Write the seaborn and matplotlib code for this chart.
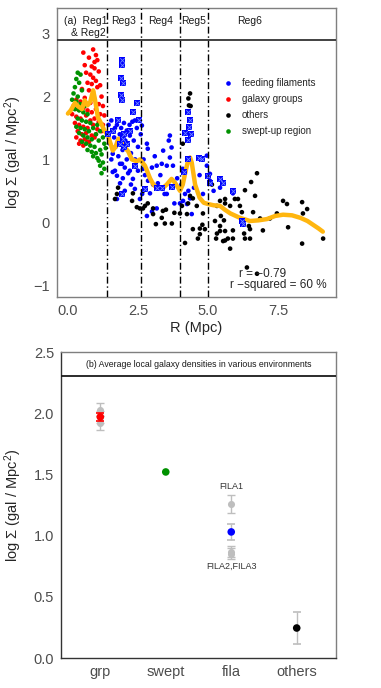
import numpy as np
import pandas as pd
import matplotlib
matplotlib.use('Agg')
import matplotlib.pyplot as plt
import seaborn as sns

# ---------------- panel (a): local density vs distance ----------------
# feeding filaments (plain dots)
fila_R = [1.45, 1.5, 1.55, 1.6, 1.6, 1.65, 1.68, 1.68, 1.7, 1.75, 1.75, 1.79, 1.8, 1.85, 1.86,
          1.86, 1.9, 1.93, 1.95, 1.96, 2.0, 2.03, 2.03, 2.05, 2.1, 2.1, 2.15, 2.2, 2.21, 2.21,
          2.25, 2.3, 2.32, 2.35, 2.39, 2.39, 2.4, 2.46, 2.5, 2.5, 2.57, 2.6, 2.64, 2.7, 2.75,
          2.82, 2.82, 2.85, 2.68, 2.86, 2.93, 3.0, 3.0, 3.04, 3.1, 3.17, 3.17, 3.21, 3.3, 3.35,
          3.4, 3.45, 3.53, 3.53, 3.6, 3.64, 3.64, 3.7, 3.75, 3.8, 3.9, 4.0, 4.05, 4.1, 4.11,
          4.18, 4.25, 4.3, 4.36, 4.42, 4.5, 4.68, 4.7, 4.82, 4.96, 4.96, 5.07, 5.07, 5.2, 5.43,
          5.89, 1.75, 1.6, 1.55, 2.25, 2.65]
fila_logS = [1.55, 1.25, 1.62, 1.09, 1.46, 1.35, 1.5, 0.82, 1.2, 0.74, 1.55, 1.62, 1.05, 1.4, 0.93,
             0.62, 1.5, 0.93, 1.15, 0.7, 1.58, 0.87, 0.5, 1.3, 1.46, 1.0, 0.78, 1.55, 1.38, 0.82,
             1.1, 1.6, 0.69, 1.3, 1.62, 0.53, 1.0, 1.5, 0.82, 1.2, 0.37, 1.4, 1.54, 1.0, 0.75,
             1.25, 0.1, 1.17, 0.85, 0.66, 0.46, 0.87, 0.17, 0.6, 1.05, 0.9, 0.22, 0.62, 0.75, 0.93,
             1.14, 0.45, 0.9, 0.45, 1.3, 1.38, 1.03, 1.19, 0.9, 0.3, 0.7, 0.3, 0.6, 0.85, 0.34,
             0.45, 0.29, 0.5, 0.38, 0.13, 0.55, 1.02, 0.75, 0.45, 0.9, 1.06, 0.66, 0.77, 0.5, 0.55,
             0.46, 0.37, 0.8, 1.0, 0.6, 0.45]
# feeding filaments members drawn with boxed cross
fila_box_R = [1.93, 1.93, 1.89, 1.96, 1.89, 1.93, 2.46, 2.32, 2.54, 1.79, 1.43, 1.6, 1.96, 2.1,
              1.86, 2.0, 2.39, 1.93, 2.75, 3.17, 3.35, 3.7, 4.18, 4.3, 4.36, 4.32, 4.4, 4.29,
              4.3, 4.68, 4.8, 4.15, 5.0, 5.07, 5.43, 5.54, 5.89, 6.21, 6.25, 2.2, 2.0]
fila_box_logS = [2.58, 2.5, 2.3, 2.22, 2.02, 1.95, 1.89, 1.75, 1.62, 1.62, 1.4, 1.46, 1.33, 1.25,
                 1.25, 1.2, 0.9, 0.45, 0.53, 0.55, 0.55, 0.56, 1.42, 1.75, 1.62, 1.52, 1.4, 1.31,
                 1.0, 1.02, 1.0, 0.8, 0.74, 0.62, 0.69, 0.62, 0.5, 0.02, -0.03, 1.45, 1.4]
# galaxy groups
grp_R = [0.55, 0.75, 0.9, 0.95, 1.0, 0.6, 0.85, 0.95, 1.05, 0.65, 0.8, 0.9, 1.1, 0.7, 0.85, 1.0,
         1.15, 0.5, 0.75, 0.9, 1.05, 1.2, 0.3, 0.45, 0.6, 0.8, 0.95, 1.1, 1.25, 0.2, 0.35, 0.55,
         0.7, 0.85, 1.0, 1.15, 1.3, 0.15, 0.3, 0.45, 0.65, 0.8, 0.95, 1.1, 1.25, 0.25, 0.4, 0.55,
         0.7, 0.9, 1.05, 1.2, 0.35, 0.5, 0.65, 0.85, 1.0, 0.3, 0.45, 0.6, 0.75, 0.95, 0.4, 0.55, 0.7]
grp_logS = [2.70, 2.62, 2.75, 2.55, 2.66, 2.50, 2.48, 2.45, 2.58, 2.38, 2.35, 2.30, 2.40, 2.22, 2.20,
            2.25, 2.18, 2.12, 2.10, 2.05, 2.15, 2.00, 1.95, 1.92, 1.98, 1.90, 1.95, 1.88, 1.85, 1.85,
            1.80, 1.82, 1.78, 1.75, 1.80, 1.72, 1.70, 1.72, 1.68, 1.65, 1.70, 1.62, 1.65, 1.60, 1.55,
            1.58, 1.55, 1.52, 1.50, 1.55, 1.48, 1.45, 1.45, 1.40, 1.42, 1.38, 1.40, 1.35, 1.30, 1.32,
            1.28, 1.35, 1.25, 1.22, 1.28]
# swept-up region
swept_R = [0.35, 0.45, 0.3, 0.4, 0.25, 0.5, 0.2, 0.35, 0.15, 0.3, 0.45, 0.6, 0.25, 0.4, 0.55, 0.7,
           0.35, 0.5, 0.65, 0.8, 0.3, 0.45, 0.6, 0.75, 0.9, 1.05, 0.4, 0.55, 0.7, 0.85, 1.0, 1.15,
           0.5, 0.65, 0.8, 0.95, 1.1, 1.25, 0.7, 0.85, 1.0, 1.15, 1.3, 0.9, 1.05, 1.2, 1.35, 1.1,
           1.25, 1.15, 1.3, 1.2]
swept_logS = [2.38, 2.35, 2.28, 2.22, 2.15, 2.10, 2.05, 2.00, 1.95, 1.92, 1.88, 1.85, 1.80, 1.78,
              1.75, 1.72, 1.65, 1.62, 1.60, 1.58, 1.52, 1.50, 1.48, 1.45, 1.50, 1.55, 1.42, 1.38,
              1.35, 1.32, 1.40, 1.45, 1.28, 1.25, 1.22, 1.20, 1.30, 1.35, 1.15, 1.12, 1.10, 1.15,
              1.25, 1.05, 1.02, 1.08, 1.18, 0.98, 0.95, 0.90, 0.85, 0.78]
# others
oth_R = [1.68, 1.75, 1.79, 2.29, 2.32, 2.46, 2.57, 2.68, 2.68, 2.75, 2.85, 3.04, 3.04, 3.14, 3.35,
         3.39, 3.46, 3.5, 3.71, 3.8, 4.0, 4.07, 4.1, 4.18, 4.25, 4.29, 4.36, 4.46, 4.46, 4.6,
         4.64, 4.71, 4.71, 4.8, 4.82, 4.89, 4.36, 4.3, 4.32, 4.38, 5.14, 5.25, 5.29, 5.32, 5.32,
         5.43, 5.43, 5.43, 5.46, 5.54, 5.57, 5.61, 5.61, 5.61, 5.61, 5.71, 5.79, 5.79, 5.89, 5.89,
         5.96, 6.07, 6.14, 6.21, 6.29, 6.32, 6.32, 6.39, 6.46, 6.5, 6.5, 6.54, 6.61, 6.68, 6.75,
         6.75, 6.86, 6.96, 7.21, 7.46, 7.68, 7.82, 7.86, 8.36, 8.36, 8.39, 8.54, 9.11]
oth_logS = [0.37, 0.45, 0.55, 0.34, 0.46, 0.24, 0.22, 0.22, 0.5, 0.26, 0.3, 0.22, 0.13, -0.03, 0.07,
            0.18, -0.02, 0.2, -0.02, 0.15, 0.14, 0.26, 1.25, -0.33, 0.13, 0.3, 0.42, 0.38, -0.11, 0.26,
            -0.26, -0.1, -0.19, -0.04, 0.14, -0.11, 2.05, 1.97, 1.86, 1.85, 0.6, 0.02, -0.26, 0.26, -0.18,
            0.34, -0.06, -0.14, 0.1, -0.3, 0.03, 0.37, -0.14, -0.29, 0.3, -0.26, -0.42, 0.26, -0.13, -0.26,
            0.37, 0.37, 0.26, 0.16, -0.18, 0.51, -0.26, -0.72, -0.06, -0.11, -0.26, 0.64, 0.16, 0.42, 0.78,
            -0.82, 0.06, -0.13, 0.06, 0.14, 0.34, 0.29, -0.08, 0.32, -0.34, 0.14, 0.21, -0.26]

# smoothed trend
smooth_R = [0.0, 0.1, 0.25, 0.35, 0.5, 0.6, 0.7, 0.8, 0.9, 0.96, 1.07, 1.2, 1.3, 1.43, 1.6, 1.7,
            1.8, 1.9, 2.03, 2.15, 2.28, 2.46, 2.57, 2.75, 2.93, 3.05, 3.17, 3.35, 3.53, 3.7, 3.82,
            4.0, 4.1, 4.18, 4.3, 4.36, 4.42, 4.54, 4.7, 4.85, 5.0, 5.2, 5.43, 5.6, 5.8, 6.14, 6.5,
            6.8, 7.1, 7.4, 7.68, 8.0, 8.3, 8.55, 8.75, 8.95, 9.1]
smooth_logS = [1.73, 1.78, 1.9, 1.85, 1.8, 1.94, 1.86, 1.92, 2.1, 1.97, 1.67, 1.56, 1.46, 1.38, 1.14, 1.2,
               1.33, 1.3, 1.19, 1.13, 1.0, 0.97, 1.0, 0.9, 0.7, 0.6, 0.55, 0.53, 0.6, 0.69, 0.63,
               0.5, 0.6, 0.77, 1.0, 1.03, 0.95, 0.6, 0.39, 0.31, 0.29, 0.27, 0.26, 0.2, 0.14, 0.07, 0.02,
               0.03, 0.05, 0.1, 0.12, 0.11, 0.07, 0.02, -0.04, -0.1, -0.15]

reg_bounds = [1.4, 2.6, 4.0, 5.0]
reg_names = ['Reg3', 'Reg4', 'Reg5', 'Reg6']

# ---------------- panel (b): average densities ----------------
env_names = ['grp', 'swept', 'fila', 'others']
env_mean = [1.97, 1.52, 1.03, 0.245]
env_err = [0.03, 0.0, 0.065, 0.13]
sub_env = ['grp', 'grp', 'grp', 'fila', 'fila', 'fila']
sub_names = ['GRP1', 'GRP2', 'GRP3', 'FILA1', 'FILA2', 'FILA3']
sub_mean = [2.03, 1.97, 1.92, 1.26, 0.87, 0.85]
sub_err = [0.05, 0.05, 0.06, 0.075, 0.045, 0.045]

sns.set_style('white')
plt.rcParams['font.family'] = ['Liberation Sans', 'DejaVu Sans']
plt.rcParams['mathtext.fontset'] = 'custom'
plt.rcParams['mathtext.rm'] = 'Liberation Sans'
plt.rcParams['mathtext.it'] = 'Liberation Sans:italic'

env_order = ['feeding filaments', 'galaxy groups', 'others', 'swept-up region']
env_pal = {'feeding filaments': '#0000FF', 'galaxy groups': '#FF0000',
           'others': '#000000', 'swept-up region': '#009100'}

df = pd.concat([
    pd.DataFrame({'R': fila_R, 'logS': fila_logS, 'env': 'feeding filaments'}),
    pd.DataFrame({'R': oth_R, 'logS': oth_logS, 'env': 'others'}),
    pd.DataFrame({'R': grp_R, 'logS': grp_logS, 'env': 'galaxy groups'}),
    pd.DataFrame({'R': swept_R, 'logS': swept_logS, 'env': 'swept-up region'}),
], ignore_index=True)
df_box = pd.DataFrame({'R': fila_box_R, 'logS': fila_box_logS})
df_smooth = pd.DataFrame({'R': smooth_R, 'logS': smooth_logS})

fig = plt.figure(figsize=(3.81, 6.88), dpi=100)
ax1 = fig.add_axes([57 / 381, 391 / 688, 279 / 381, 289 / 688])
ax2 = fig.add_axes([61 / 381, 30 / 688, 275 / 381, 306 / 688])

tick_kw = dict(length=3, width=0.8, color='#333333', labelcolor='#4D4D4D', labelsize=10.5, pad=2)

# ---- panel (a)
sns.scatterplot(data=df, x='R', y='logS', hue='env', hue_order=env_order, palette=env_pal,
                s=11, linewidth=0, ax=ax1, zorder=2)
sns.lineplot(data=df_smooth, x='R', y='logS', color='#FFB60F', lw=3.2, errorbar=None,
             ax=ax1, zorder=3)
sns.scatterplot(data=df_box, x='R', y='logS', marker='s', color='#0000FF', s=16,
                linewidth=0, ax=ax1, zorder=4, legend=False)
sns.scatterplot(data=df_box, x='R', y='logS', marker='x', color='#7088FF', s=10,
                linewidth=0.6, ax=ax1, zorder=5, legend=False)

for b in reg_bounds:
    ax1.axvline(b, color='black', lw=1.0, ls=(0, (5, 2, 1, 2)), zorder=6)
ax1.axhline(2.9, color='#333333', lw=1.3, zorder=6)
edges = reg_bounds + [8.0]
for i, name in enumerate(reg_names):
    ax1.text((edges[i] + edges[i + 1]) / 2, 3.2, name, ha='center', va='center', fontsize=7.5,
             color='#1A1A1A')
ax1.text(0.64, 3.2, '(a)  Reg1', ha='center', va='center', fontsize=7.5, color='#1A1A1A')
ax1.text(0.72, 3.02, '& Reg2', ha='center', va='center', fontsize=7.5, color='#1A1A1A')

ax1.text(6.96, -0.83, 'r = \u22120.79', ha='center', va='center', fontsize=8.5)
ax1.text(7.5, -1.0, 'r \u2212squared = 60 %', ha='center', va='center', fontsize=8.5)

ax1.set_xlim(-0.39, 9.57)
ax1.set_ylim(-1.19, 3.41)
ax1.set_xticks([0, 2.5, 5, 7.5], ['0.0', '2.5', '5.0', '7.5'])
ax1.set_yticks([-1, 0, 1, 2, 3])
ax1.tick_params(**tick_kw)
ax1.set_xlabel('R (Mpc)', fontsize=10.5, labelpad=2)
ax1.set_ylabel('log Σ (gal / Mpc$^2$)', fontsize=10.5)
ax1.yaxis.set_label_coords(-0.118, 0.5)
for sp in ax1.spines.values():
    sp.set_color('#7F7F7F')
    sp.set_linewidth(1.0)

handles, labels = ax1.get_legend_handles_labels()
ax1.legend(handles, labels, frameon=False, loc='upper left', bbox_to_anchor=(0.565, 0.77),
           fontsize=7, handletextpad=0.4, labelspacing=0.62, borderaxespad=0)

# ---- panel (b)
pos = {n: i for i, n in enumerate(env_names)}
sub_x = [pos[e] for e in sub_env]
env_x = list(range(len(env_names)))
env_cols = ['#FF0000', '#009100', '#0000FF', '#000000']
bar_cols = ['#FF0000', '#BEBEBE', '#BEBEBE', '#BEBEBE']

ax2.errorbar(sub_x, sub_mean, yerr=sub_err, fmt='none', ecolor='#BEBEBE', elinewidth=1.0,
             capsize=3, capthick=1.0, zorder=2)
sns.scatterplot(x=sub_x, y=sub_mean, color='#BEBEBE', s=26, linewidth=0, ax=ax2, zorder=3)
for x, m, e, c in zip(env_x, env_mean, env_err, bar_cols):
    if e > 0:
        ax2.errorbar([x], [m], yerr=[e], fmt='none', ecolor=c, elinewidth=1.6 if c != '#BEBEBE' else 1.0,
                     capsize=3, capthick=1.2, zorder=4)
sns.scatterplot(x=env_x, y=env_mean, hue=env_names, palette=dict(zip(env_names, env_cols)),
                s=30, linewidth=0, ax=ax2, zorder=5, legend=False)

fila_i = sub_names.index('FILA1')
ax2.text(pos['fila'], sub_mean[fila_i] + 0.14, 'FILA1', ha='center', va='center',
         fontsize=6.5, color='#333333')
ax2.text(pos['fila'], sub_mean[-1] - 0.10, 'FILA2,FILA3', ha='center', va='center',
         fontsize=6.5, color='#333333')

ax2.axhline(2.3, color='#1A1A1A', lw=1.3, zorder=6)
ax2.text(1.5, 2.4, '(b) Average local galaxy densities in various environments',
         ha='center', va='center', fontsize=6.3, color='#1A1A1A')

ax2.set_xlim(-0.6, 3.6)
ax2.set_ylim(0, 2.5)
ax2.set_xticks(env_x, env_names)
ax2.set_yticks([0, 0.5, 1, 1.5, 2, 2.5], ['0.0', '0.5', '1.0', '1.5', '2.0', '2.5'])
ax2.tick_params(**tick_kw)
ax2.set_xlabel('')
ax2.set_ylabel('log Σ (gal / Mpc$^2$)', fontsize=10.5)
ax2.yaxis.set_label_coords(-0.135, 0.5)
for name, sp in ax2.spines.items():
    if name in ('left', 'bottom'):
        sp.set_color('#333333')
    else:
        sp.set_color('#7F7F7F')
    sp.set_linewidth(1.0)

fig.savefig('out.png', dpi=100)
